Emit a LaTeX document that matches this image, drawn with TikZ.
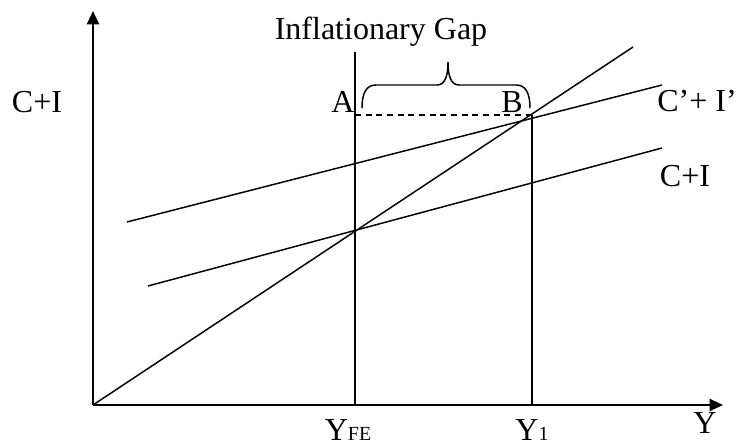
\documentclass[tikz,border=0pt]{standalone}
\usepackage{fontspec}
\setmainfont{Liberation Serif}
\usetikzlibrary{arrows.meta,positioning}
\tikzset{
    every picture/.style={line join=miter},
    axisline/.style={draw=black,line width=1.5pt,
      -{Triangle[length=10pt,width=9pt]}},
    schedule/.style={draw=black,line width=1.1pt},
    gapline/.style={draw=black,line width=1.1pt,dash pattern=on 4.5pt off 3.5pt},
    gapbrace/.style={draw=black,line width=1.1pt,line cap=round},
    graphlabel/.style={font=\fontsize{24}{28}\selectfont,inner sep=0pt,anchor=base}
}
\newcommand{\subtext}[1]{{\fontsize{15}{18}\selectfont #1}}

\begin{document}
\begin{tikzpicture}[x=0.75pt,y=0.75pt]
  \useasboundingbox (0,0) rectangle (738,445);
  % axes
  \coordinate (O) at (93,40);
  \coordinate (ytop) at (93,434);
  \coordinate (xend) at (723,40);
  \draw[axisline] (O) -- (ytop);
  \draw[axisline] (O) -- (xend);
  % 45 degree line
  \coordinate (diag) at (633,398);
  \draw[schedule] (O) -- (diag);
  % spending schedules
  \coordinate (ci0) at (148,159);
  \coordinate (ci1) at (662,297);
  \coordinate (cip0) at (127,223);
  \coordinate (cip1) at (662,360);
  \draw[schedule] (ci0) -- (ci1);
  \draw[schedule] (cip0) -- (cip1);
  % income levels
  \coordinate (yfe) at (355,40);
  \coordinate (yfetop) at (355,393);
  \coordinate (y1) at (532,40);
  \coordinate (A) at (355,330);
  \coordinate (B) at (532,330);
  \draw[schedule] (yfe) -- (yfetop);
  \draw[schedule] (y1) -- (B);
  \draw[gapline] (A) -- (B);
  % the gap, drawn as a curly brace
  \coordinate (br0) at (362,337);
  \coordinate (brtip) at (448,383);
  \coordinate (br1) at (530,337);
  \draw[gapbrace] (br0) .. controls +(0,16) and +(-9,0) .. (376,360)
    -- (437,360) .. controls +(8,0) and +(0,-14) .. (brtip)
    .. controls +(0,-14) and +(-8,0) .. (459,360)
    -- (516,360) .. controls +(9,0) and +(0,16) .. (br1);
  \node[graphlabel] (gaplabel) at (381,405) {Inflationary Gap};
  \node[graphlabel] (alabel) at (343,332) {A};
  \node[graphlabel] (blabel) at (512,332) {B};
  \node[graphlabel] (vlabel) at (37,332) {C+I};
  \node[graphlabel] (ciplabel) at (697,333) {C’+ I’};
  \node[graphlabel] (cilabel) at (685,258) {C+I};
  \node[graphlabel] (hlabel) at (705,11) {Y};
  \node[graphlabel] (yfelabel) at (348,4) {Y\subtext{FE}};
  \node[graphlabel] (y1label) at (532,4) {Y\subtext{1}};
\end{tikzpicture}
\end{document}
